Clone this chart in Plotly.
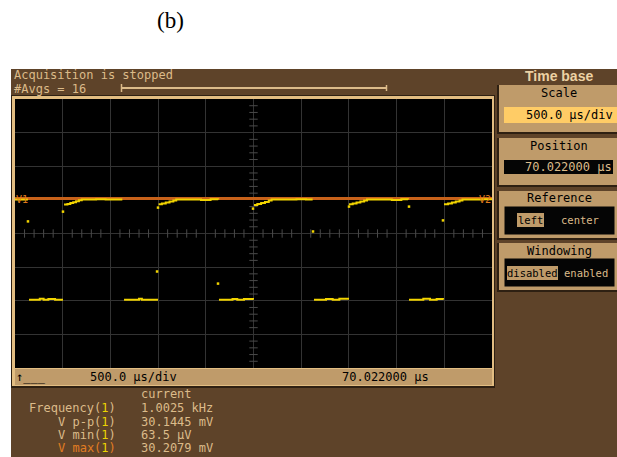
import plotly.graph_objects as go

W, H = 617, 457

# ---------------- data (time in µs from left edge of screen, voltage in mV) ----------------
trace_t = [0, 135, None,
           147, 210, 260, 300, 350, 420, 503, None,
           514, 550, 580, 610, 640, 670, 700, 760, 850, 950, 1050, 1125, None,
           1143, 1250, 1300, 1330, 1400, 1499, None,
           1505, 1540, 1580, 1620, 1660, 1690, 1800, 1950, 2050, 2130, None,
           2138, 2200, 2280, 2330, 2400, 2495, None,
           2505, 2540, 2580, 2620, 2660, 2690, 2800, 2950, 3050, 3120, None,
           3134, 3200, 3260, 3330, 3400, 3491, None,
           3500, 3540, 3580, 3620, 3660, 3690, 3800, 3950, 4050, 4120, None,
           4130, 4200, 4280, 4350, 4420, 4486, None,
           4497, 4540, 4580, 4620, 4660, 4690, 4800, 4900, 5000]
trace_v = [30.1, 30.1, None,
           0.3, 0.3, 0.6, 0.3, 0.5, 0.3, 0.3, None,
           28.6, 28.8, 29.1, 29.3, 29.6, 29.9, 30.1, 30.1, 30.2, 30.1, 30.1, 30.1, None,
           0.3, 0.3, 0.6, 0.3, 0.3, 0.3, None,
           28.7, 28.9, 29.2, 29.5, 29.8, 30.1, 30.1, 30.0, 30.2, 30.1, None,
           0.3, 0.3, 0.5, 0.3, 0.5, 0.3, None,
           28.5, 28.8, 29.1, 29.4, 29.8, 30.1, 30.1, 30.2, 30.1, 30.1, None,
           0.3, 0.3, 0.5, 0.3, 0.6, 0.3, None,
           28.7, 28.9, 29.2, 29.5, 29.8, 30.1, 30.1, 30.0, 30.2, 30.1, None,
           0.3, 0.3, 0.6, 0.3, 0.5, 0.3, None,
           28.7, 28.9, 29.2, 29.5, 29.8, 30.1, 30.1, 30.2, 30.1]

stray_t = [136, 503, 1499, 1489, 2128, 2495, 3124, 3501, 4130, 4486]
stray_v = [23.6, 26.5, 27.7, 8.7, 5.1, 27.4, 20.6, 28.0, 28.0, 23.9]

cursor_t = [0, 5000]
cursor_v = [30.4, 30.4]

x_range = [0, 5000]      # 10 div x 500 µs
y_range = [-20, 60]      # 8 div x 10 mV
x_div, y_div = 500, 10

meas_labels = ["Frequency(", "V p-p(", "V min(", "V max("]
meas_values = ["1.0025 kHz", "30.1445 mV", "63.5 µV", "30.2079 mV"]

# ---------------- helpers ----------------
def px(x):
    return x / W

def py(y):
    return 1 - y / H

BROWN = "#5e4329"
TAN = "#bf9b6a"
LTAN = "#dcbb8a"
DARK = "#2e2012"
MONO = "DejaVu Sans Mono"

shapes = []

def rect(x0, y0, x1, y1, fill, line=None, lw=0):
    shapes.append(dict(type="rect", xref="paper", yref="paper",
                       x0=px(x0), x1=px(x1), y0=py(y1), y1=py(y0),
                       fillcolor=fill, line=dict(color=line or fill, width=lw),
                       layer="below"))

def hline(x0, x1, y, color, w):
    shapes.append(dict(type="line", xref="paper", yref="paper",
                       x0=px(x0), x1=px(x1), y0=py(y), y1=py(y),
                       line=dict(color=color, width=w), layer="below"))

def vline(x, y0, y1, color, w):
    shapes.append(dict(type="line", xref="paper", yref="paper",
                       x0=px(x), x1=px(x), y0=py(y0), y1=py(y1),
                       line=dict(color=color, width=w), layer="below"))

annotations = []

def text(x, y, s, color=LTAN, size=12, family=MONO, anchor="left", bold=False):
    if bold:
        s = "<b>" + s + "</b>"
    annotations.append(dict(x=px(x), y=py(y), xref="paper", yref="paper",
                            text=s, showarrow=False, xanchor=anchor, yanchor="middle",
                            borderpad=0,
                            font=dict(family=family, size=size, color=color)))

# ---------------- background panel ----------------
rect(11, 69, 617, 457, BROWN)
# grid frame
rect(11, 95, 495, 388, DARK)
rect(12, 96, 494, 386, "#e2bd82")
rect(15, 99, 492, 368, "#000000")
rect(15, 369, 492, 385, TAN)

# acquisition progress bar
hline(121, 387, 88, LTAN, 2)
vline(121.5, 84, 92, LTAN, 1.5)
vline(386.5, 85, 91, LTAN, 1.5)

# right-hand boxes
def box(y0, y1):
    rect(497, y0, 617, y1 + 2, DARK)
    rect(499, y0, 617, y1, TAN)

box(85, 132)
box(138, 185)
box(191, 238)
box(243, 290)
rect(504, 107, 617, 123, "#ffcc66")
rect(504, 160, 613, 174, "#050505")
rect(504, 206, 615, 235, "#050505", line=TAN, lw=1)
rect(504, 258, 615, 287, "#050505", line=TAN, lw=1)
rect(517, 213, 544, 227, TAN)
rect(507, 266, 558, 280, TAN)

# ---------------- texts ----------------
text(170, 21, "(b)", color="#000000", size=23, family="Liberation Serif", anchor="center")
text(13, 75, "Acquisition is stopped")
text(13, 89, "#Avgs = 16")
text(559, 76, "Time base", color="#ecd2a4", size=14, family="Liberation Sans", anchor="center", bold=True)
text(559, 93, "Scale", color="#000000", anchor="center")
text(614, 115, "500.0 µs/div", color="#000000", anchor="right")
text(559, 146, "Position", color="#000000", anchor="center")
text(613, 167, "70.022000 µs", color=LTAN, anchor="right")
text(559, 198, "Reference", color="#000000", anchor="center")
text(530.5, 220, "left", color="#000000", size=10.5, anchor="center")
text(580, 220, "center", color=LTAN, size=10.5, anchor="center")
text(532.5, 273, "disabled", color="#000000", size=10.5, anchor="center")
text(586, 273, "enabled", color=LTAN, size=10.5, anchor="center")
text(559, 251, "Windowing", color="#000000", anchor="center")

text(15, 377, "↑___", color="#000000", anchor="left")
text(133, 377, "500.0 µs/div", color="#000000", anchor="center")
text(385, 377, "70.022000 µs", color="#000000", anchor="center")

text(140, 394, "current")
meas_y = [408, 422, 435, 448]
for lab, val, yy in zip(meas_labels, meas_values, meas_y):
    col = "#e27d22" if lab.startswith("V max") else LTAN
    text(117, yy, f"<span style='color:{col}'>{lab}</span><span style='color:#ecd400'>1</span><span style='color:{col}'>)</span>",
         color=col, anchor="right")
    text(140, yy, val)

text(15, 199, "V1", color="#e07a1c", size=10, anchor="left")
text(492, 199, "V2", color="#e07a1c", size=10, anchor="right")

# ---------------- traces ----------------
fig = go.Figure()

# centre graticule minor ticks
minor_x = [x_range[0] + i * x_div / 5 for i in range(1, 50) if i % 5]
minor_y = [y_range[0] + i * y_div / 5 for i in range(1, 40) if i % 5]
fig.add_trace(go.Scatter(x=minor_x, y=[(y_range[0] + y_range[1]) / 2] * len(minor_x), mode="markers",
                         marker=dict(symbol="line-ns", size=6, line=dict(color="#4a4a4a", width=1)),
                         hoverinfo="skip", showlegend=False))
fig.add_trace(go.Scatter(x=[(x_range[0] + x_range[1]) / 2] * len(minor_y), y=minor_y, mode="markers",
                         marker=dict(symbol="line-ew", size=6, line=dict(color="#4a4a4a", width=1)),
                         hoverinfo="skip", showlegend=False))

fig.add_trace(go.Scatter(x=cursor_t, y=cursor_v, mode="lines",
                         line=dict(color="#c8621a", width=3), showlegend=False, hoverinfo="skip"))
fig.add_trace(go.Scatter(x=trace_t, y=trace_v, mode="lines", connectgaps=False,
                         line=dict(color="#f2d400", width=2, shape="hv"), showlegend=False))
fig.add_trace(go.Scatter(x=stray_t, y=stray_v, mode="markers",
                         marker=dict(color="#f2d400", size=2.5, symbol="square"), showlegend=False))

fig.update_layout(
    width=W, height=H,
    margin=dict(l=0, r=0, t=0, b=0),
    paper_bgcolor="#ffffff",
    plot_bgcolor="#000000",
    shapes=shapes,
    annotations=annotations,
    xaxis=dict(domain=[px(15), px(492)], range=x_range, dtick=x_div, tick0=0,
               showgrid=True, gridcolor="#333333", gridwidth=1.2,
               zeroline=False, showticklabels=False, ticks="", showline=False, fixedrange=True),
    yaxis=dict(domain=[py(368), py(99)], range=y_range, dtick=y_div, tick0=-20,
               showgrid=True, gridcolor="#333333", gridwidth=1.2,
               zeroline=False, showticklabels=False, ticks="", showline=False, fixedrange=True),
)

fig.write_html("out.html", config={"displayModeBar": False},
               post_script="document.body.style.margin='0';document.body.style.overflow='hidden';")
